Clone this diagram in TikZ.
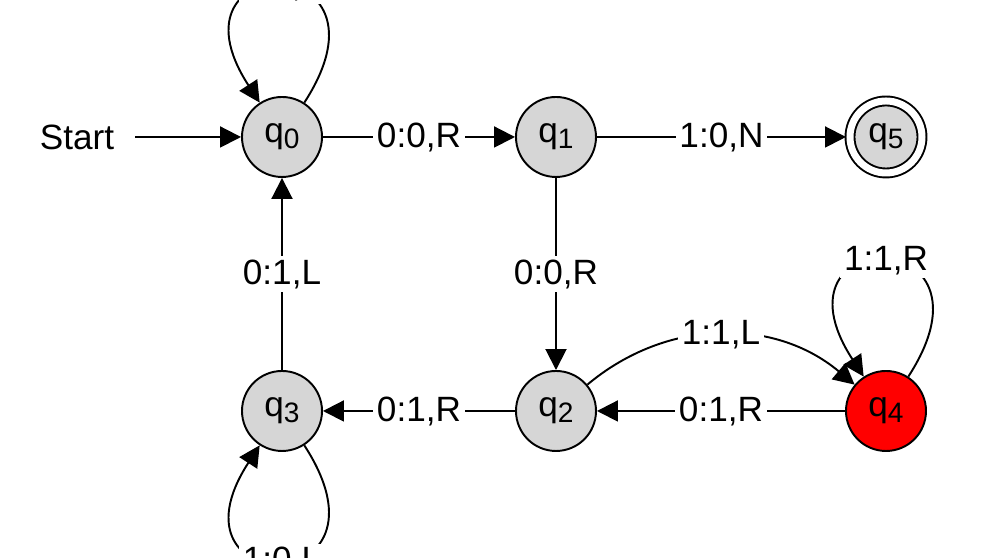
\documentclass[tikz,border=0pt]{standalone}
\usepackage{fontspec}
\setmainfont{Liberation Sans}
\usetikzlibrary{arrows.meta}

\definecolor{stategray}{RGB}{214,214,214}
\definecolor{haltred}{RGB}{255,0,0}

\newcommand{\qs}[1]{q\raisebox{-0.3ex}{\footnotesize #1}}

\begin{document}
\begin{tikzpicture}[
  font=\fontsize{10}{12}\selectfont,
  >={Triangle[length=2.1mm,width=2.1mm]},
  line width=0.55pt,
  state/.style={circle,draw,fill=stategray,minimum size=8mm,inner sep=0pt},
  accept/.style={state,double,double distance=0.7mm,minimum size=7.2mm,outer sep=0.4mm},
  lbl/.style={fill=white,inner sep=1pt},
  selfloop/.style={min distance=18.5mm}
]

  \useasboundingbox (0,0) rectangle (9.92,5.58);
  \clip (0,0) rectangle (9.92,5.58);

  \node[state] (q0) at (2.82,4.21) {\qs{0}};
  \node[state] (q1) at (5.56,4.21) {\qs{1}};
  \node[accept] (q5) at (8.86,4.21) {\qs{5}};
  \node[state] (q3) at (2.82,1.47) {\qs{3}};
  \node[state] (q2) at (5.56,1.47) {\qs{2}};
  \node[state,fill=haltred] (q4) at (8.86,1.47) {\qs{4}};
  \node[inner sep=2mm] (start) at (0.77,4.21) {Start};

  \draw[->] (start) -- (q0);
  \draw[->] (q0) -- node[lbl] (e01) {0:0,R} (q1);
  \draw[->] (q1) -- node[lbl] (e15) {1:0,N} (q5);
  \draw[->] (q1) -- node[lbl] (e12) {0:0,R} (q2);
  \draw[->] (q2) -- node[lbl] (e23) {0:1,R} (q3);
  \draw[->] (q4) -- node[lbl] (e42) {0:1,R} (q2);
  \draw[->] (q3) -- node[lbl] (e30) {0:1,L} (q0);
  \draw[->] (q2) to[out=40,in=140] node[lbl] (e24) {1:1,L} (q4);

  % self loops
  \draw[->] (q0) to[out=57,in=123,selfloop] node[lbl] (e00) {1:0,L} (q0);
  \draw[->] (q4) to[out=57,in=123,selfloop] node[lbl] (e44) {1:1,R} (q4);
  \draw[->] (q3) to[out=-57,in=-123,selfloop] node[lbl] (e33) {1:0,L} (q3);

\end{tikzpicture}
\end{document}
